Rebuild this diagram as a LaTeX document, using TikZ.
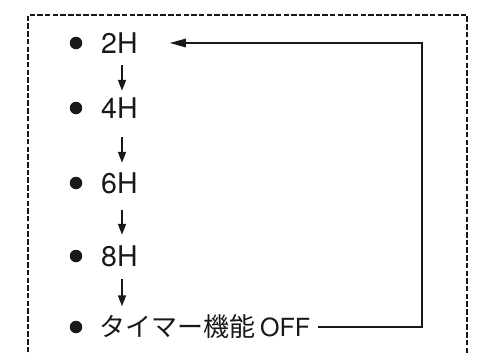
\documentclass[tikz,border=0pt]{standalone}
\usepackage{fontspec}
\setmainfont{TeX Gyre Heros}
\newfontfamily\jp{Noto Sans CJK JP}
\usetikzlibrary{arrows.meta}
\begin{document}
\begin{tikzpicture}[x=1pt,y=-1pt,
  frame/.style={line width=2.4pt, dash pattern=on 5.5pt off 2.2pt, black!90},
  dot/.style={circle, fill=black!90, inner sep=0pt, minimum size=12.5pt},
  item/.style={anchor=west, inner sep=0pt, font=\fontsize{28.5}{30}\selectfont, text height=20pt, text depth=0pt, text=black!90},
  varr/.style={line width=1.7pt, black!90, -{Triangle[length=11pt,width=8pt]}},
  loop/.style={line width=1.4pt, black!90, -{Triangle[length=16pt,width=8.5pt]}}]
\useasboundingbox (0,0) rectangle (481,354);
\draw[frame] (28,360) -- (28,15) -- (467,15) -- (467,360);
\node[dot] (b1) at (76,43) {};
\node[dot] (b2) at (76,108) {};
\node[dot] (b3) at (76,183) {};
\node[dot] (b4) at (76,256) {};
\node[dot] (b5) at (76,327) {};
\node[item] (t1) at (101,43) {2H};
\node[item] (t2) at (101,108) {4H};
\node[item] (t3) at (101,183) {6H};
\node[item] (t4) at (101,256) {8H};
\node[item, text height=19pt] (t5) at (99,327) {{\jp\fontsize{26}{28}\selectfont タイマー機能}\hspace{5pt}{\fontsize{25}{27}\selectfont OFF}};
\coordinate (ax) at (122,0);
\coordinate (rc) at (422,0);
\draw[varr, shorten <=12pt, shorten >=7pt] (t1.south -| ax) -- (t2.north -| ax);
\draw[varr, shorten <=19pt, shorten >=10pt] (t2.south -| ax) -- (t3.north -| ax);
\draw[varr, shorten <=17pt, shorten >=11pt] (t3.south -| ax) -- (t4.north -| ax);
\draw[varr, shorten <=13pt, shorten >=11pt] (t4.south -| ax) -- (t5.north -| ax);
\draw[loop, shorten <=8pt, shorten >=32pt] (t5.east) -- (t5.east -| rc) -- (t1.east -| rc) -- (t1.east);
\end{tikzpicture}
\end{document}
